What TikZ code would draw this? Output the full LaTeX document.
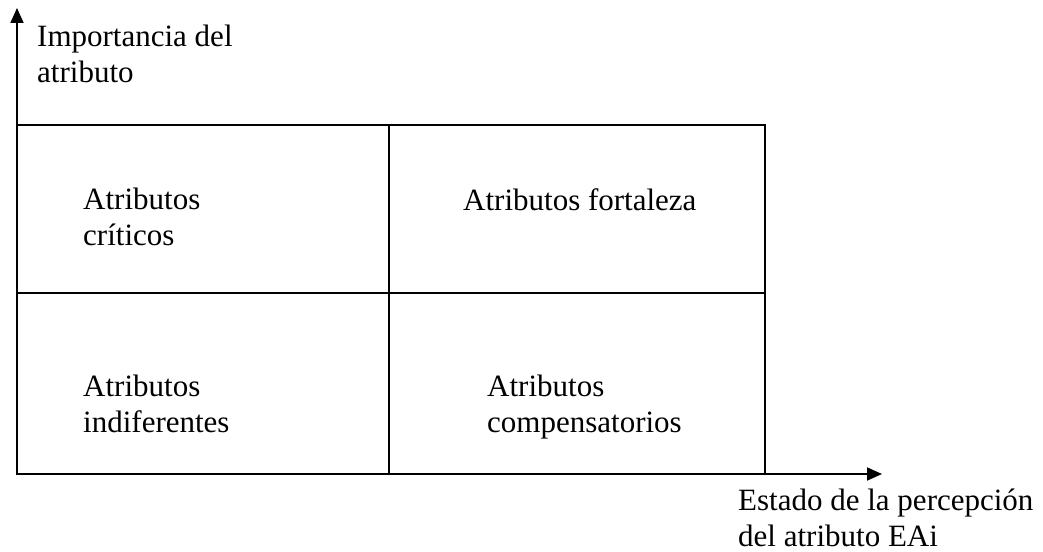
\documentclass[tikz,border=0pt]{standalone}
\usepackage{fontspec}
\setmainfont{Liberation Serif}
\usetikzlibrary{arrows.meta, positioning}

\begin{document}
\begin{tikzpicture}[
        x=1pt, y=-1pt,
        grid/.style={draw=black, line width=1.8pt},
        axis/.style={-{Triangle[length=15pt, width=13pt]}, line width=1.8pt},
        txt/.style={inner sep=0pt, anchor=base west, align=left, font=\fontsize{31}{35.6}\selectfont}
    ]
        \useasboundingbox (0,0) rectangle (1043,551);

        % axes
        \coordinate (origin) at (17,474);
        \coordinate (ytip) at (17,8);
        \coordinate (xtip) at (882,474);
        \draw[axis] (origin) -- (ytip);
        \draw[axis] (origin) -- (xtip);

        % quadrants
        \draw[grid] (17,125) rectangle (765,474);
        \draw[grid] (389,125) -- (389,474);
        \draw[grid] (17,293) -- (765,293);

        % labels (base anchor sits on the last line)
        \node[txt] (ylabel) at (37,82) {Importancia del\\atributo};
        \node[txt] (xlabel) at (738,546) {Estado de la percepción\\del atributo EAi};

        \node[txt] (criticos) at (83,245) {Atributos\\críticos};
        \node[txt] (fortaleza) at (463,210) {Atributos fortaleza};
        \node[txt] (indif) at (83,432) {Atributos\\indiferentes};
        \node[txt] (compens) at (487,432) {Atributos\\compensatorios};
    \end{tikzpicture}
\end{document}
